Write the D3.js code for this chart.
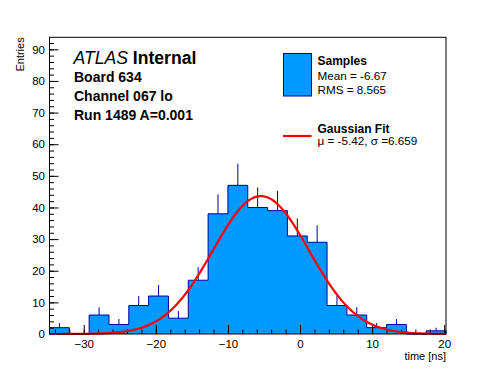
<!DOCTYPE html>
<html>
<head>
<meta charset="utf-8">
<script src="https://cdn.jsdelivr.net/npm/d3@7"></script>
<style>
  body { margin: 0; background: #fff; }
  text { font-family: "Liberation Sans", Arial, Helvetica, sans-serif; fill: #000; }
</style>
</head>
<body>
<div id="chart"></div>
<script>
// histogram: 20 bins between -34.75 and 20.25 ns
var binEdges = [-34.75, -32, -29.25, -26.5, -23.75, -21, -18.25, -15.5, -12.75, -10,
                -7.25, -4.5, -1.75, 1, 3.75, 6.5, 9.25, 12, 14.75, 17.5, 20.25];
var counts = [2, 0, 6, 3, 9, 12, 5, 17, 38, 47, 40, 39, 31, 29, 9, 6, 2, 3, 0, 1];

// gaussian fit parameters
var fitConst = [43.6];
var fitMean = [-5.42];
var fitSigma = [6.659];

var xTicks = [-30, -20, -10, 0, 10, 20];
var yTicks = [0, 10, 20, 30, 40, 50, 60, 70, 80, 90];
var infoLines = ["Board 634", "Channel 067 lo", "Run 1489 A=0.001"];

var width = 496, height = 372;
var margin = {top: 37.3, left: 49.5, right: 50, bottom: 38};

var fillCol = "#0099ff", lineCol = "#00009a";

var svg = d3.select("#chart").append("svg")
  .attr("width", width)
  .attr("height", height);

var x = d3.scaleLinear()
  .domain([binEdges[0], binEdges[binEdges.length - 1]])
  .range([margin.left, width - margin.right]);
var y = d3.scaleLinear()
  .domain([0, 93.8])
  .range([height - margin.bottom, margin.top]);

var bins = counts.map(function(c, i) {
  return {x0: binEdges[i], x1: binEdges[i + 1], n: c};
});

// filled step histogram
var pts = [[x(bins[0].x0), y(0)]];
bins.forEach(function(b) {
  pts.push([x(b.x0), y(b.n)]);
  pts.push([x(b.x1), y(b.n)]);
});
pts.push([x(bins[bins.length - 1].x1), y(0)]);

svg.append("path")
  .attr("d", d3.line()(pts) + "Z")
  .attr("fill", fillCol)
  .attr("stroke", "none");

svg.append("path")
  .attr("d", d3.line()(pts))
  .attr("fill", "none")
  .attr("stroke", lineCol)
  .attr("stroke-width", 1);

// error bars (upper half)
svg.selectAll(".err")
  .data(bins.filter(function(b) { return b.n > 0; }))
  .enter().append("line")
    .attr("class", "err")
    .attr("x1", function(d) { return x((d.x0 + d.x1) / 2); })
    .attr("x2", function(d) { return x((d.x0 + d.x1) / 2); })
    .attr("y1", function(d) { return y(d.n); })
    .attr("y2", function(d) { return y(d.n + Math.sqrt(d.n)); })
    .attr("stroke", lineCol)
    .attr("stroke-width", 1);

// axes
var xMinor = d3.range(-34, 21, 2);
var yMinor = d3.range(0, 94, 2);

svg.append("g")
  .attr("transform", "translate(0," + y(0) + ")")
  .call(d3.axisBottom(x).tickValues(xMinor).tickSize(-4.5).tickFormat(""))
  .call(function(g) { g.select(".domain").remove(); });

var gx = svg.append("g")
  .attr("transform", "translate(0," + y(0) + ")")
  .call(d3.axisBottom(x).tickValues(xTicks).tickSize(-9).tickPadding(6.3));
gx.select(".domain").remove();

svg.append("g")
  .attr("transform", "translate(" + x.range()[0] + ",0)")
  .call(d3.axisLeft(y).tickValues(yMinor).tickSize(-4.5).tickFormat(""))
  .call(function(g) { g.select(".domain").remove(); });

var gy = svg.append("g")
  .attr("transform", "translate(" + x.range()[0] + ",0)")
  .call(d3.axisLeft(y).tickValues(yTicks).tickSize(-9).tickPadding(4.5));
gy.select(".domain").remove();

svg.selectAll(".tick line").attr("stroke", "#000");
svg.selectAll(".tick text")
  .style("font-family", '"Liberation Sans", Arial, sans-serif')
  .style("font-size", "11.5px")
  .attr("fill", "#000");

// gaussian curve
var gauss = function(t) {
  return fitConst[0] * Math.exp(-0.5 * Math.pow((t - fitMean[0]) / fitSigma[0], 2));
};
var curve = d3.range(0, 301).map(function(i) {
  var t = x.domain()[0] + (x.domain()[1] - x.domain()[0]) * i / 300;
  return [x(t), y(gauss(t))];
});
svg.append("path")
  .attr("d", d3.line()(curve))
  .attr("fill", "none")
  .attr("stroke", "#ff0000")
  .attr("stroke-width", 2.2);

// frame
svg.append("rect")
  .attr("x", x.range()[0])
  .attr("y", y.range()[1])
  .attr("width", x.range()[1] - x.range()[0])
  .attr("height", y.range()[0] - y.range()[1])
  .attr("fill", "none")
  .attr("stroke", "#000")
  .attr("stroke-width", 1);

// axis titles
svg.append("text")
  .attr("transform", "translate(23.5," + y.range()[1] + ") rotate(-90)")
  .attr("text-anchor", "end")
  .style("font-size", "11px")
  .text("Entries");

svg.append("text")
  .attr("x", x.range()[1])
  .attr("y", 359.5)
  .attr("text-anchor", "end")
  .style("font-size", "11px")
  .text("time [ns]");

// ATLAS label
var atlas = svg.append("text")
  .attr("x", 73.5)
  .attr("y", 63.5)
  .style("font-size", "17.6px");
atlas.append("tspan").style("font-style", "italic").text("ATLAS");
atlas.append("tspan").style("font-weight", "bold").text(" Internal");

svg.selectAll(".info")
  .data(infoLines)
  .enter().append("text")
    .attr("class", "info")
    .attr("x", 74)
    .attr("y", function(d, i) { return 81.7 + i * 19.2; })
    .style("font-size", "14px")
    .style("font-weight", "bold")
    .text(function(d) { return d; });

// legend
var leg = svg.append("g");
leg.append("rect")
  .attr("x", 283.5).attr("y", 53.5)
  .attr("width", 28).attr("height", 42.5)
  .attr("fill", fillCol)
  .attr("stroke", lineCol);
leg.append("text").attr("x", 317.5).attr("y", 65)
  .style("font-size", "12px").style("font-weight", "bold").text("Samples");
leg.append("text").attr("x", 317.5).attr("y", 80)
  .style("font-size", "11.7px").text("Mean = -6.67");
leg.append("text").attr("x", 317.5).attr("y", 94)
  .style("font-size", "11.7px").text("RMS = 8.565");

leg.append("line")
  .attr("x1", 283).attr("x2", 311.5)
  .attr("y1", 136).attr("y2", 136)
  .attr("stroke", "#ff0000").attr("stroke-width", 2.2);
leg.append("text").attr("x", 317.5).attr("y", 132.5)
  .style("font-size", "12px").style("font-weight", "bold").text("Gaussian Fit");
leg.append("text").attr("x", 317.5).attr("y", 145)
  .style("font-size", "11.7px").text("\u03bc = -5.42, \u03c3 =6.659");
</script>
</body>
</html>
